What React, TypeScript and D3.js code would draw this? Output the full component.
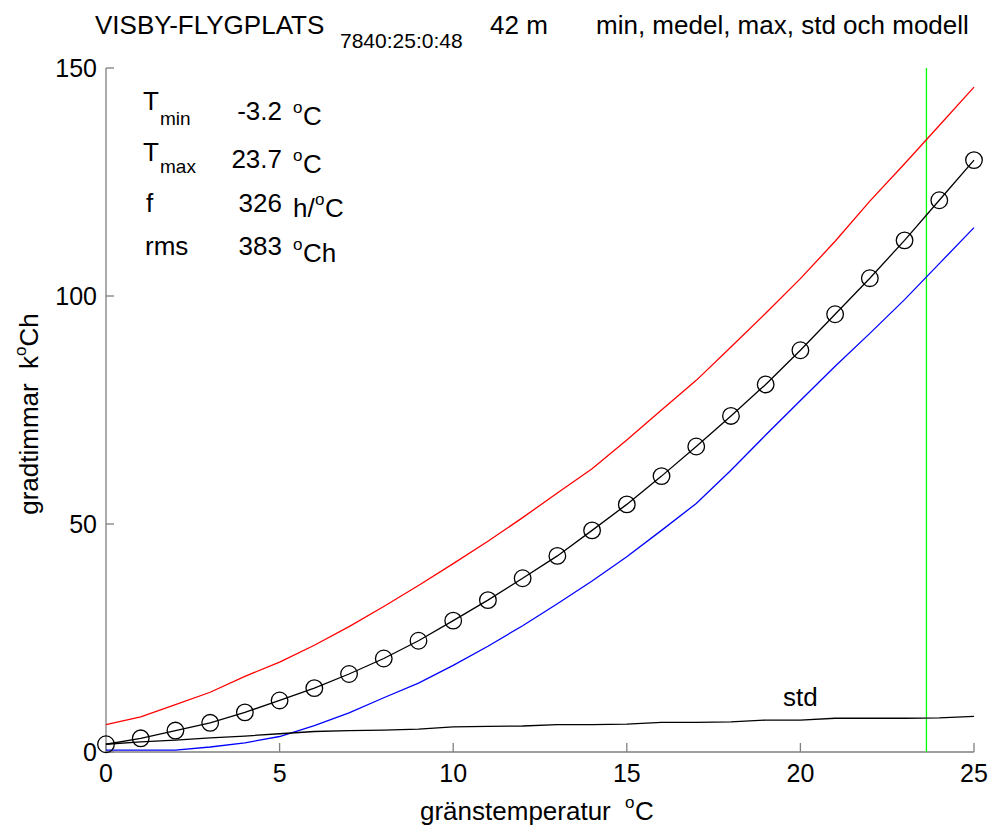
import React from "react";
import * as d3 from "d3";

const temps = d3.range(0, 26);
const meanVals = [1.7, 3.0, 4.7, 6.4, 8.7, 11.3, 14.0, 17.1, 20.5, 24.4, 28.8, 33.3, 38.1, 43.0, 48.6, 54.3, 60.5, 67.0, 73.7, 80.6, 88.1, 96.0, 103.9, 112.2, 121.0, 129.8];
const modelVals = [1.7, 3.0, 4.7, 6.4, 8.7, 11.3, 14.0, 17.1, 20.5, 24.4, 28.8, 33.3, 38.1, 43.0, 48.6, 54.3, 60.5, 67.0, 73.7, 80.6, 88.1, 96.0, 103.9, 112.2, 121.0, 129.8];
const maxVals = [6.0, 7.7, 10.4, 13.1, 16.6, 19.7, 23.4, 27.5, 31.9, 36.5, 41.3, 46.2, 51.4, 56.8, 62.1, 68.4, 75.0, 81.5, 88.8, 96.2, 103.8, 112.0, 120.8, 129.0, 137.4, 145.8];
const minVals = [0.4, 0.4, 0.4, 1.1, 2.0, 3.4, 5.8, 8.6, 11.9, 15.1, 19.0, 23.2, 27.7, 32.5, 37.5, 42.8, 48.6, 54.5, 61.8, 69.5, 77.1, 84.6, 91.8, 99.2, 107.1, 115.0];
const stdVals = [1.7, 2.2, 2.6, 3.1, 3.5, 4.0, 4.5, 4.7, 4.8, 5.0, 5.5, 5.6, 5.7, 6.0, 6.0, 6.1, 6.5, 6.5, 6.6, 7.0, 7.0, 7.4, 7.4, 7.4, 7.5, 7.8];
const xTicks = [0, 5, 10, 15, 20, 25];
const yTicks = [0, 50, 100, 150];
const tmaxLine = 23.63;

const FONT = "'Liberation Sans', Arial, Helvetica, sans-serif";
const AXIS = "#7f7f7f";

export default function App() {
  const W = 992, H = 830;
  const x = d3.scaleLinear().domain([0, 25]).range([106, 974]);
  const y = d3.scaleLinear().domain([0, 150]).range([752, 68]);
  const line = (vals: number[]) =>
    d3.line<number>().x((_, i) => x(temps[i])).y((v) => y(v))(vals) || "";

  const T = (props: any) => (
    <text fontFamily={FONT} fill="#000" {...props} />
  );

  return (
    <div style={{ position: "absolute", left: 0, top: 0 }}>
      <svg width={W} height={H} style={{ display: "block", background: "#fff" }}>
        <rect width={W} height={H} fill="#fff" />
        {/* title */}
        <T x={95} y={34} fontSize={26}>VISBY-FLYGPLATS</T>
        <T x={340} y={48} fontSize={21}>7840:25:0:48</T>
        <T x={490} y={34} fontSize={26}>42 m</T>
        <T x={596} y={34} fontSize={26}>min, medel, max, std och modell</T>

        {/* axes */}
        <line x1={x(0)} x2={x(0)} y1={y(150)} y2={y(0)} stroke={AXIS} strokeWidth={1.3} />
        <line x1={x(0)} x2={x(25)} y1={y(0)} y2={y(0)} stroke={AXIS} strokeWidth={1.3} />
        {yTicks.map((t) => (
          <g key={"y" + t}>
            <line x1={x(0)} x2={x(0) + 8} y1={y(t)} y2={y(t)} stroke={AXIS} strokeWidth={1.3} />
            <T x={97} y={y(t) + 9} fontSize={25} textAnchor="end">{t}</T>
          </g>
        ))}
        {xTicks.map((t) => (
          <g key={"x" + t}>
            <line x1={x(t)} x2={x(t)} y1={y(0)} y2={y(0) - 9} stroke={AXIS} strokeWidth={1.3} />
            <T x={x(t)} y={782} fontSize={25} textAnchor="middle">{t}</T>
          </g>
        ))}

        {/* axis labels */}
        <T x={420} y={820} fontSize={26}>gränstemperatur</T>
        <T x={625} y={808} fontSize={17}>o</T>
        <T x={635} y={820} fontSize={26}>C</T>
        <g transform="translate(38,414) rotate(-90)">
          <T x={0} y={0} fontSize={26} textAnchor="middle">
            {"gradtimmar\u00a0\u00a0k"}<tspan fontSize={17} dy={-12}>o</tspan><tspan dy={12}>Ch</tspan>
          </T>
        </g>

        {/* stats */}
        <T x={143} y={110} fontSize={26}>T</T>
        <T x={160} y={125} fontSize={19}>min</T>
        <T x={282} y={120} fontSize={26} textAnchor="end">-3.2</T>
        <T x={293} y={113} fontSize={17}>o</T>
        <T x={303} y={125} fontSize={26}>C</T>

        <T x={143} y={161} fontSize={26}>T</T>
        <T x={160} y={173} fontSize={19}>max</T>
        <T x={282} y={168} fontSize={26} textAnchor="end">23.7</T>
        <T x={293} y={161} fontSize={17}>o</T>
        <T x={303} y={173} fontSize={26}>C</T>

        <T x={146} y={212} fontSize={26}>f</T>
        <T x={282} y={212} fontSize={26} textAnchor="end">326</T>
        <T x={293} y={217} fontSize={26}>h/</T>
        <T x={315} y={205} fontSize={17}>o</T>
        <T x={325} y={217} fontSize={26}>C</T>

        <T x={145} y={255} fontSize={26}>rms</T>
        <T x={282} y={255} fontSize={26} textAnchor="end">383</T>
        <T x={293} y={250} fontSize={17}>o</T>
        <T x={303} y={262} fontSize={26}>Ch</T>

        {/* green Tmax line */}
        <line x1={x(tmaxLine)} x2={x(tmaxLine)} y1={y(150)} y2={y(0)} stroke="#00ff00" strokeWidth={1.3} />

        {/* series */}
        <path d={line(maxVals)} fill="none" stroke="#ff0000" strokeWidth={1.3} />
        <path d={line(minVals)} fill="none" stroke="#0000ff" strokeWidth={1.3} />
        <path d={line(stdVals)} fill="none" stroke="#000" strokeWidth={1.3} />
        <path d={line(modelVals)} fill="none" stroke="#000" strokeWidth={1.3} />
        {meanVals.map((v, i) => (
          <circle key={i} cx={x(temps[i])} cy={y(v)} r={8.3} fill="none" stroke="#000" strokeWidth={1.3} />
        ))}
        <T x={783} y={706} fontSize={26}>std</T>
      </svg>
    </div>
  );
}
